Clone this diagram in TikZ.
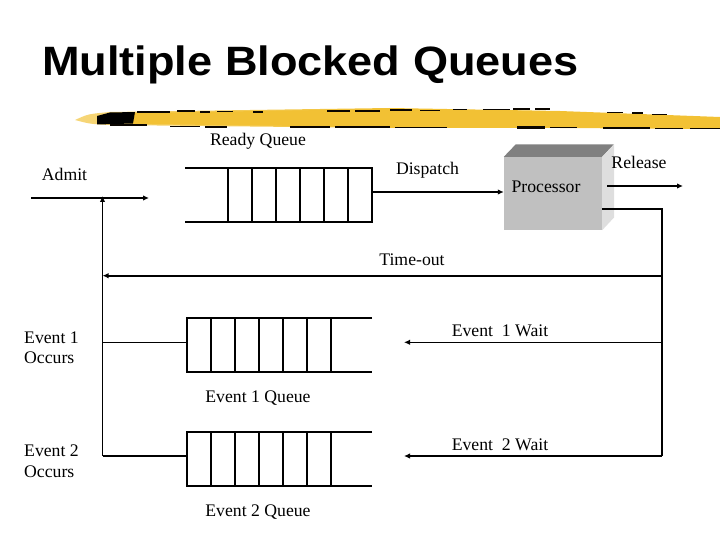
\documentclass[tikz,border=0pt]{standalone}
\usepackage{fontspec}
\setmainfont{Liberation Serif}
\newfontfamily\titlefont{Liberation Sans}
\usetikzlibrary{arrows.meta}
\definecolor{brushyellow}{RGB}{242,193,52}
\definecolor{brushpale}{RGB}{246,214,120}
\definecolor{streakcol}{RGB}{10,5,0}
\definecolor{procfront}{RGB}{192,192,192}
\definecolor{proctop}{RGB}{128,128,128}
\definecolor{procside}{RGB}{222,222,222}
\begin{document}
\begin{tikzpicture}[x=1pt,y=-1pt,
  lbl/.style={inner sep=0pt, font=\fontsize{17.7}{20}\selectfont, anchor=base},
  lblw/.style={lbl, anchor=base west},
  ln/.style={line width=1.6pt},
  arr/.style={ln, -{Latex[length=6pt,width=5.5pt]}},
  streak/.style={fill=streakcol},
]
\useasboundingbox (0,0) rectangle (720,540);

% title
\node[anchor=base west, inner sep=0pt] (title) at (42,75.7)
  {\scalebox{1.1}[1]{\titlefont\bfseries\fontsize{41}{45}\selectfont Multiple Blocked Queues}};

% brush stroke
\shade[left color=brushpale, right color=brushyellow, middle color=brushyellow]
  (75,120) .. controls (88,114) .. (110,112) -- (390,108) -- (560,111) -- (720,117)
  -- (720,129) -- (560,128) -- (390,128) -- (110,125) .. controls (90,124) .. cycle;
\fill[brushyellow] (130,113) -- (390,109) -- (540,111) -- (540,127) -- (390,127) -- (130,124) -- cycle;
\fill[black] (97,116) -- (110,112.5) -- (135,112) -- (133,123.5) -- (97,124.5) -- cycle;
\foreach \a/\b/\y/\h in {137/170/111/1.6, 177/195/110.5/1.2, 200/210/111/1.8, 217/233/111/1.3, 253/263/111.5/1.2,
                      327/350/110.5/1.4, 355/380/110/1.8,
                      390/412/109.5/1.5, 420/440/109.8/1.1, 453/467/109/1.4, 483/510/109/1.3, 513/530/108/1.8, 535/550/108.5/1.2,
                      607/623/112/1.2, 632/643/112.5/1.1, 652/667/114/1.3}
  \fill[streak] (\a,\y) rectangle (\b,\y+\h);
\foreach \a/\b/\y/\h in {110/147/124/2.2, 170/200/126/1.4, 205/227/126.5/1.8, 290/330/126.5/1.5, 335/390/126/2.2,
                      395/447/127/1.4, 517/545/126.5/2.2, 550/577/127/1.4, 603/650/127.5/1.8, 655/683/128/1.3, 690/720/128/1.4}
  \fill[streak] (\a,\y) rectangle (\b,\y+\h);

% ready queue
\draw[ln] (185,168) -- (372,168) -- (372,222) -- (185,222);
\foreach \x in {228,252,276,300,324,348} \draw[ln] (\x,168) -- (\x,222);
\coordinate (rq) at (372,192);
\node[lbl] (rqlabel) at (258,145.5) {Ready Queue};

% processor
\node[draw=none, fill=procfront, minimum width=98pt, minimum height=73pt, inner sep=0pt] (proc) at (553,193.5) {};
\fill[proctop] (proc.north west) -- ++(12,-12.5) -- ++(98,0) -- (proc.north east) -- cycle;
\fill[procside] (proc.north east) -- ++(12,-12.5) -- ++(0,73) -- (proc.south east) -- cycle;
\node[lbl] (proclabel) at (546,192.7) {Processor};

% admit
\coordinate (admitStart) at (31,198);
\coordinate (admitEnd) at (149,198);
\coordinate (admitJoin) at (102.5,198);
\draw[arr] (admitStart) -- (admitEnd);
\node[lbl] (admitlabel) at (64.5,181) {Admit};

% dispatch
\draw[arr] (rq) -- (rq -| proc.west);
\node[lbl] (displabel) at (427.5,175) {Dispatch};

% release
\coordinate (relStart) at (607,186);
\coordinate (relEnd) at (683,186);
\draw[arr] (relStart) -- (relEnd);
\node[lbl] (rellabel) at (639,168.3) {Release};

% processor out / right trunk
\coordinate (pout) at (602,209);
\coordinate (rTop) at (662,209);
\coordinate (rTO) at (662,275.7);
\coordinate (rE1) at (662,342.3);
\coordinate (rE2) at (662,456);
\draw[ln] (pout) -- (rTop) -- (rE2);

% time-out
\coordinate (lTO) at (102.5,275.7);
\draw[arr] (rTO) -- (lTO);
\node[lbl] (tolabel) at (412,265) {Time-out};

% event 1 queue
\draw[ln] (372,318) -- (187,318) -- (187,372) -- (372,372);
\foreach \x in {211,235,259,283,307,331} \draw[ln] (\x,318) -- (\x,372);
\coordinate (q1in) at (187,342.3);
\coordinate (q1out) at (404,342.3);
\coordinate (lE1) at (102.5,342.3);
\draw[arr] (rE1) -- (q1out);
\draw[ln] (lE1) -- (q1in);
\node[lbl] (w1label) at (500,336.7) {Event\ \ 1 Wait};
\node[lblw] (o1a) at (24,343.3) {Event 1};
\node[lblw] (o1b) at (24,363.5) {Occurs};
\node[lbl] (q1label) at (258,402.7) {Event 1 Queue};

% event 2 queue
\draw[ln] (372,432) -- (187,432) -- (187,486) -- (372,486);
\foreach \x in {211,235,259,283,307,331} \draw[ln] (\x,432) -- (\x,486);
\coordinate (q2in) at (187,456);
\coordinate (q2out) at (404,456);
\coordinate (lE2) at (102.5,456);
\draw[arr] (rE2) -- (q2out);
\draw[ln] (q2in) -- (lE2);
\draw[arr] (lE2) -- ([yshift=2pt]admitJoin);
\node[lbl] (w2label) at (500,450.7) {Event\ \ 2 Wait};
\node[lblw] (o2a) at (24,456.5) {Event 2};
\node[lblw] (o2b) at (24,477.3) {Occurs};
\node[lbl] (q2label) at (258,516.7) {Event 2 Queue};
\end{tikzpicture}
\end{document}
